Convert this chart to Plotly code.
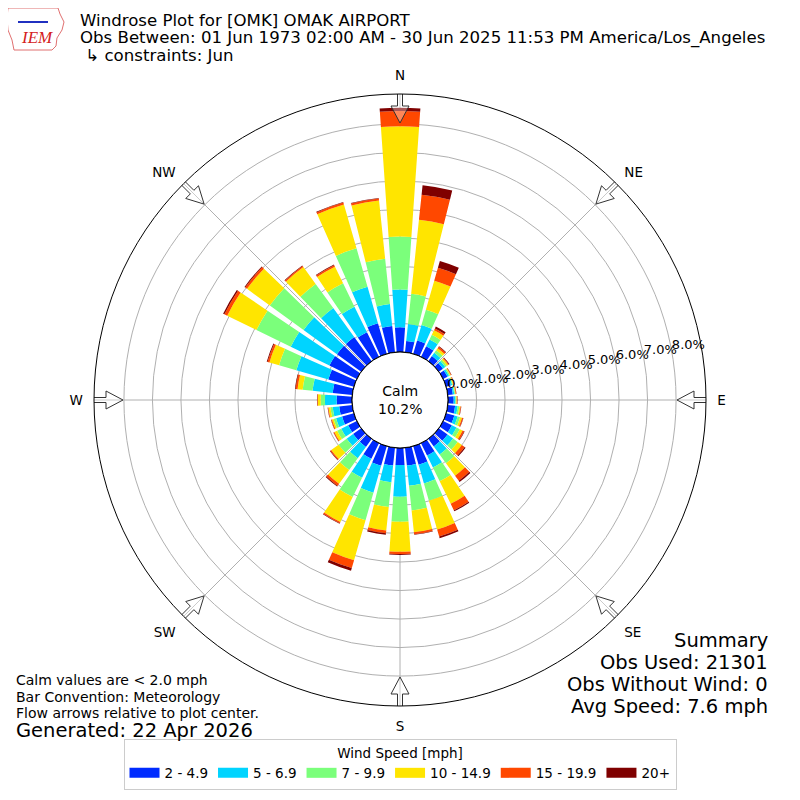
import math
import plotly.graph_objects as go

# ---------------- data ----------------
directions = [0, 10, 20, 30, 40, 50, 60, 70, 80, 90, 100, 110, 120, 130, 140, 150, 160, 170,
              180, 190, 200, 210, 220, 230, 240, 250, 260, 270, 280, 290, 300, 310, 320, 330, 340, 350]

speed_bins = ["2 - 4.9", "5 - 6.9", "7 - 9.9", "10 - 14.9", "15 - 19.9", "20+"]
bin_colors = ["rgb(0,43,255)", "rgb(0,212,255)", "rgb(123,255,123)",
              "rgb(255,229,0)", "rgb(255,72,0)", "rgb(127,0,0)"]

# percent of observations per direction (36 bins) for each speed bin
pct_2_5 = [0.87, 0.40, 0.49, 0.41, 0.22, 0.18, 0.17, 0.17, 0.18, 0.20, 0.26, 0.30, 0.34, 0.38, 0.33, 0.48, 0.68, 0.63,
           0.60, 0.63, 0.72, 0.61, 0.35, 0.35, 0.34, 0.43, 0.46, 0.54, 0.69, 0.93, 1.07, 1.05, 1.05, 0.96, 1.12, 0.93]
pct_5_7 = [1.32, 0.60, 0.56, 0.27, 0.14, 0.10, 0.06, 0.05, 0.05, 0.06, 0.09, 0.12, 0.18, 0.24, 0.35, 0.47, 0.68, 0.71,
           1.11, 0.59, 0.98, 0.74, 0.49, 0.28, 0.27, 0.22, 0.23, 0.41, 0.71, 1.17, 1.51, 1.45, 1.25, 1.00, 1.33, 0.77]
pct_7_10 = [1.86, 1.06, 0.56, 0.18, 0.11, 0.07, 0.04, 0.03, 0.03, 0.03, 0.06, 0.09, 0.13, 0.20, 0.38, 0.54, 0.63, 0.87,
            0.88, 0.87, 1.00, 0.75, 0.51, 0.35, 0.16, 0.09, 0.08, 0.15, 0.35, 0.63, 1.34, 1.46, 1.05, 0.91, 1.40, 1.60]
pct_10_15 = [3.87, 2.61, 1.06, 0.18, 0.09, 0.06, 0.03, 0.03, 0.02, 0.02, 0.04, 0.07, 0.11, 0.18, 0.54, 0.88, 1.05, 0.77,
             1.05, 0.83, 1.46, 0.98, 0.60, 0.32, 0.11, 0.06, 0.07, 0.10, 0.18, 0.35, 1.14, 0.99, 0.73, 0.65, 1.60, 2.05]
pct_15_20 = [0.53, 0.89, 0.47, 0.07, 0.06, 0.03, 0.02, 0.02, 0.02, 0.02, 0.02, 0.04, 0.06, 0.12, 0.22, 0.25, 0.26, 0.07,
             0.08, 0.10, 0.29, 0.05, 0.09, 0.04, 0.03, 0.03, 0.02, 0.02, 0.07, 0.07, 0.11, 0.08, 0.05, 0.06, 0.07, 0.07]
pct_20p = [0.12, 0.33, 0.25, 0.07, 0.03, 0.02, 0.01, 0.01, 0.01, 0.01, 0.01, 0.01, 0.02, 0.04, 0.05, 0.04, 0.06, 0.02,
           0.03, 0.05, 0.10, 0.02, 0.03, 0.02, 0.01, 0.01, 0.01, 0.01, 0.02, 0.03, 0.05, 0.03, 0.02, 0.02, 0.02, 0.02]

series = [pct_2_5, pct_5_7, pct_7_10, pct_10_15, pct_15_20, pct_20p]

radial_ticks = [0, 1, 2, 3, 4, 5, 6, 7, 8]
radial_tick_labels = ["%.1f%%" % v for v in radial_ticks]
compass_angles = [0, 45, 90, 135, 180, 225, 270, 315]
compass_labels = ["N", "NE", "E", "SE", "S", "SW", "W", "NW"]

calm_pct = 10.2
title_lines = ["Windrose Plot for [OMK] OMAK AIRPORT",
               "Obs Between: 01 Jun 1973 02:00 AM - 30 Jun 2025 11:53 PM America/Los_Angeles",
               " \u21b3 constraints: Jun"]
notes_lines = ["Calm values are < 2.0 mph", "Bar Convention: Meteorology",
               "Flow arrows relative to plot center."]
generated = "Generated: 22 Apr 2026"
summary_lines = ["Summary", "Obs Used: 21301", "Obs Without Wind: 0", "Avg Speed: 7.6 mph"]

# ---------------- layout geometry ----------------
W, H = 800, 800
OFF = 8                      # page body margin of the browser
CX, CY, R = 400 - OFF, 400 - OFF, 306
HOLE_PX = 48
RMAX = 9.05
hole_frac = HOLE_PX / R
px_per_unit = (R - HOLE_PX) / RMAX
FONT = "DejaVu Sans"
LABEL_DIR = 80               # compass direction of the radial labels


def sx(x):
    return (x - OFF) / W


def sy(y):
    return 1 - (y - OFF) / H


fig = go.Figure()

for name, vals, col in zip(speed_bins, series, bin_colors):
    fig.add_trace(go.Barpolar(
        r=vals, theta=directions, width=8, name=name,
        marker=dict(color=col, line=dict(width=0)),
        hoverinfo="skip", showlegend=False,
    ))

# legend entries drawn as wide colour patches
for name, col in zip(speed_bins, bin_colors):
    fig.add_trace(go.Scatterpolar(
        r=[None], theta=[None], mode="lines", name=name,
        line=dict(color=col, width=10), hoverinfo="skip",
    ))

# black inner circle (calm hole edge)
circ_theta = [i * 2 for i in range(181)]
fig.add_trace(go.Scatterpolar(
    r=[0] * len(circ_theta), theta=circ_theta, mode="lines",
    line=dict(color="black", width=1), showlegend=False, hoverinfo="skip", cliponaxis=False,
))

# radial labels
fig.add_trace(go.Scatterpolar(
    r=radial_ticks, theta=[LABEL_DIR] * len(radial_ticks), mode="text",
    text=radial_tick_labels, textposition="top right",
    textfont=dict(size=13, family=FONT, color="black"),
    showlegend=False, hoverinfo="skip", cliponaxis=False,
))

# flow arrows at the 8 compass points, pointing to the centre
arrow_local = [(R + 1, -2.5), (R - 12, -2.5), (R - 12, -9), (R - 29, 0),
               (R - 12, 9), (R - 12, 2.5), (R + 1, 2.5), (R + 1, -2.5)]
for a in compass_angles:
    rr, tt = [], []
    for s, p in arrow_local:
        rp = math.hypot(s, p)
        rr.append((rp - HOLE_PX) / px_per_unit)
        tt.append(a + math.degrees(math.atan2(p, s)))
    fig.add_trace(go.Scatterpolar(
        r=rr, theta=tt, mode="lines", fill="toself",
        fillcolor="rgba(255,255,255,0.35)", line=dict(color="#333333", width=1),
        showlegend=False, hoverinfo="skip", cliponaxis=False,
    ))

fig.update_layout(
    width=W, height=H,
    margin=dict(l=0, r=0, t=0, b=0),
    paper_bgcolor="white", plot_bgcolor="white",
    font=dict(family=FONT, color="black"),
    polar=dict(
        domain=dict(x=[(CX - R) / W, (CX + R) / W], y=[1 - (CY + R) / H, 1 - (CY - R) / H]),
        hole=hole_frac,
        bgcolor="white",
        barmode="stack",
        radialaxis=dict(
            range=[0, RMAX], tickvals=radial_ticks, showticklabels=False,
            showline=False, ticks="",
            gridcolor="#b0b0b0", gridwidth=1, layer="above traces",
        ),
        angularaxis=dict(
            direction="clockwise", rotation=90,
            tickvals=compass_angles, ticktext=compass_labels,
            showline=True, linecolor="black", linewidth=1,
            ticks="outside", ticklen=8, tickcolor="rgba(0,0,0,0)",
            gridcolor="#b0b0b0", gridwidth=1, layer="above traces",
            tickfont=dict(size=13.5, family=FONT, color="black"),
        ),
    ),
    legend=dict(
        orientation="h", x=sx(400), xanchor="center", y=sy(790), yanchor="bottom",
        bordercolor="#cccccc", borderwidth=1, bgcolor="white",
        font=dict(size=13.5, family=FONT),
        title=dict(text="Wind Speed [mph]", side="top center", font=dict(size=13.5, family=FONT)),
        itemwidth=30, tracegroupgap=0,
    ),
)

ann = []
for i, t in enumerate(title_lines):
    ann.append(dict(text=t, x=sx(78), y=sy(20 + i * 17.8), xref="paper", yref="paper",
                    xanchor="left", yanchor="middle", showarrow=False, font=dict(size=16.6, family=FONT)))
for i, t in enumerate(notes_lines):
    ann.append(dict(text=t, x=sx(14), y=sy(680 + i * 16.5), xref="paper", yref="paper",
                    xanchor="left", yanchor="middle", showarrow=False, font=dict(size=14, family=FONT)))
ann.append(dict(text=generated, x=sx(14), y=sy(730), xref="paper", yref="paper",
                xanchor="left", yanchor="middle", showarrow=False, font=dict(size=19.5, family=FONT)))
for i, t in enumerate(summary_lines):
    ann.append(dict(text=t, x=sx(770), y=sy(640 + i * 22), xref="paper", yref="paper",
                    xanchor="right", yanchor="middle", showarrow=False, font=dict(size=19.5, family=FONT)))
ann.append(dict(text="Calm<br>%.1f%%" % calm_pct, x=sx(400), y=sy(400), xref="paper", yref="paper",
                xanchor="center", yanchor="middle", showarrow=False, font=dict(size=14, family=FONT)))
# IEM logo text
ann.append(dict(text="<i>IEM</i>", x=sx(37), y=sy(38), xref="paper", yref="paper",
                xanchor="center", yanchor="middle", showarrow=False,
                font=dict(size=17, family="Liberation Serif", color="#d42020")))
fig.update_layout(annotations=ann)

# rough Iowa-shaped outline for the logo
def px(x, y):
    return "%.4f %.4f" % (sx(x), sy(y))
outline = [(8, 8), (58, 8), (60, 14), (64, 22), (62, 30), (57, 38), (56, 46), (52, 50), (14, 50), (12, 40), (8, 30), (7, 18)]
path = "M " + " L ".join(px(x, y) for x, y in outline) + " Z"
fig.add_shape(type="path", path=path, xref="paper", yref="paper",
              line=dict(color="#e07070", width=1), fillcolor="rgba(0,0,0,0)")
fig.add_shape(type="line", x0=sx(18), y0=sy(22), x1=sx(48), y1=sy(22), xref="paper", yref="paper",
              line=dict(color="#2030c0", width=2))

fig.write_html("out.html")
